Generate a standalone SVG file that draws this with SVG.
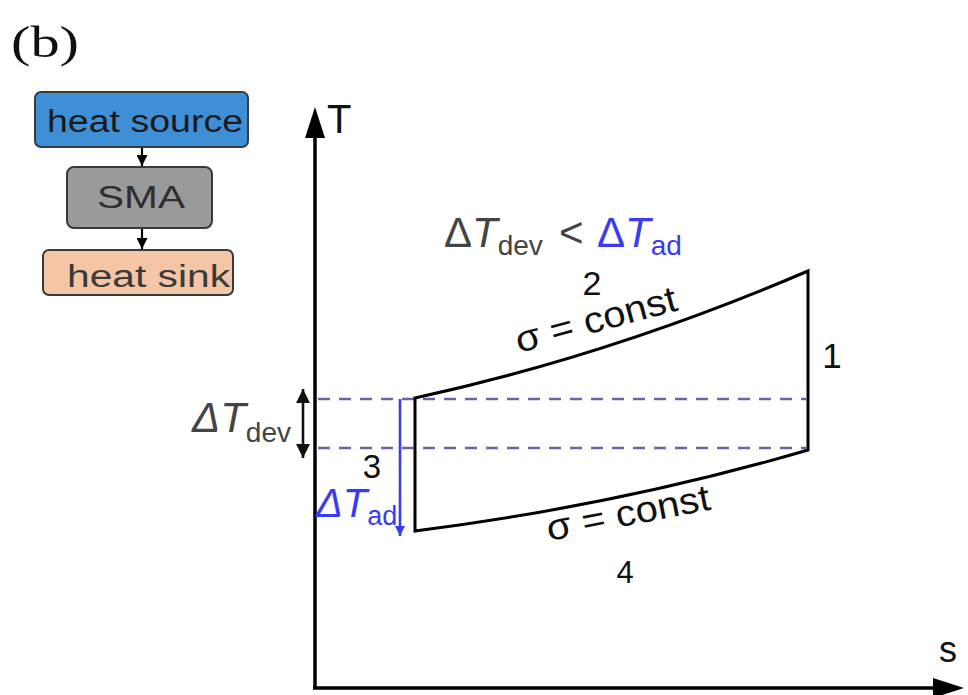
<svg xmlns="http://www.w3.org/2000/svg" width="968" height="695" viewBox="0 0 968 695">
<style>
.sans{font-family:"Liberation Sans",Arial,sans-serif}
.box{stroke:#3a3a3a;stroke-width:2}
.ax{stroke:#000;stroke-width:3.5;fill:none}
.cyc{stroke:#000;stroke-width:3;fill:none}
.dash{stroke:#7060a8;stroke-width:2.6;stroke-dasharray:12 9;fill:none}
.lbl{font-family:"Liberation Sans",Arial,sans-serif;fill:#111}
.gray{fill:#444}
.blue{fill:#3a3af0}
</style>
<defs>
<marker id="ah" viewBox="0 0 10 10" refX="10" refY="5" markerWidth="12" markerHeight="11" markerUnits="userSpaceOnUse" orient="auto-start-reverse"><path d="M0,0 L10,5 L0,10 z" fill="#000"/></marker>
<marker id="ahb" viewBox="0 0 10 10" refX="10" refY="5" markerWidth="14" markerHeight="10" markerUnits="userSpaceOnUse" orient="auto"><path d="M0,0 L10,5 L0,10 z" fill="#3a3af0"/></marker>
<marker id="ahk" viewBox="0 0 10 10" refX="10" refY="5" markerWidth="18" markerHeight="14" markerUnits="userSpaceOnUse" orient="auto-start-reverse"><path d="M0,0 L10,5 L0,10 z" fill="#111"/></marker>
</defs>
<rect width="968" height="695" fill="#fff"/>
<text x="11" y="57" font-family="'Liberation Serif','Times New Roman',serif" font-size="45" fill="#111" textLength="68" lengthAdjust="spacingAndGlyphs">(b)</text>

<g id="connectors">
<line x1="142" y1="147" x2="142" y2="166" stroke="#000" stroke-width="2.2" marker-end="url(#ah)"/>
<line x1="142" y1="228" x2="142" y2="249" stroke="#000" stroke-width="2.2" marker-end="url(#ah)"/>
</g>
<g id="heat-source">
<rect class="box" x="35" y="92" width="213" height="55" rx="6" fill="#3f8fd6"/>
<text class="sans" x="47" y="132" font-size="31" fill="#1a1a1a" textLength="196" lengthAdjust="spacingAndGlyphs">heat source</text>
</g>
<g id="sma">
<rect class="box" x="67" y="167" width="145" height="61" rx="7" fill="#9a9a9a"/>
<text class="sans" x="97" y="208" font-size="32" fill="#2e2e2e" textLength="88" lengthAdjust="spacingAndGlyphs">SMA</text>
</g>
<g id="heat-sink">
<rect class="box" x="43" y="250" width="190" height="45" rx="6" fill="#f5c6a6"/>
<text class="sans" x="67" y="287" font-size="31" fill="#3a3a3a" textLength="163" lengthAdjust="spacingAndGlyphs">heat sink</text>
</g>

<g id="axes">
<path class="ax" d="M315,689 L315,132"/>
<path d="M315,107 L325,138 L305,138 z" fill="#000"/>
<path class="ax" d="M313,688 L938,688"/>
<path d="M964,688 L933,678 L933,698 z" fill="#000"/>
<text class="lbl" x="327" y="133" font-size="40">T</text>
<text class="lbl" x="939" y="662" font-size="36">s</text>
</g>

<g id="dashes">
<line class="dash" x1="318" y1="399" x2="806" y2="399"/>
<line class="dash" x1="318" y1="448" x2="806" y2="448"/>
</g>

<g id="cycle">
<path class="cyc" d="M415,398 Q612,355 808,271 L808,450 Q620,505 415,531 Z"/>
</g>

<g id="arrows">
<line x1="400" y1="399" x2="400" y2="536" stroke="#3a3af0" stroke-width="2.6" marker-end="url(#ahb)"/>
<line x1="303" y1="389" x2="303" y2="458" stroke="#111" stroke-width="2.6" marker-start="url(#ahk)" marker-end="url(#ahk)"/>
</g>

<g id="labels">
<text class="lbl" x="444" y="247" font-size="42"><tspan class="gray">Δ</tspan><tspan class="gray" font-style="italic">T</tspan><tspan class="gray" font-size="28" dy="8">dev</tspan><tspan class="gray" dy="-8" x="559">&lt;</tspan><tspan class="blue" x="597">Δ</tspan><tspan class="blue" font-style="italic">T</tspan><tspan class="blue" font-size="28" dy="8">ad</tspan></text>
<text class="lbl" x="192" y="432" font-size="42" font-style="italic"><tspan class="gray">ΔT</tspan><tspan class="gray" font-style="normal" font-size="28" dy="10">dev</tspan></text>
<text class="lbl" x="316" y="517" font-size="40" font-style="italic"><tspan class="blue">ΔT</tspan><tspan class="blue" font-style="normal" font-size="27" dy="8">ad</tspan></text>
<text class="lbl" x="592" y="295" font-size="34" text-anchor="middle">2</text>
<text class="lbl" x="832" y="368" font-size="35" text-anchor="middle">1</text>
<text class="lbl" x="372" y="478" font-size="33" text-anchor="middle">3</text>
<text class="lbl" x="625" y="583" font-size="31" text-anchor="middle">4</text>
<text class="lbl" font-size="37" transform="translate(519,353) rotate(-15)" textLength="166" lengthAdjust="spacingAndGlyphs">σ = const</text>
<text class="lbl" font-size="37" transform="translate(549,541) rotate(-11)" textLength="166" lengthAdjust="spacingAndGlyphs">σ = const</text>
</g>
</svg>
